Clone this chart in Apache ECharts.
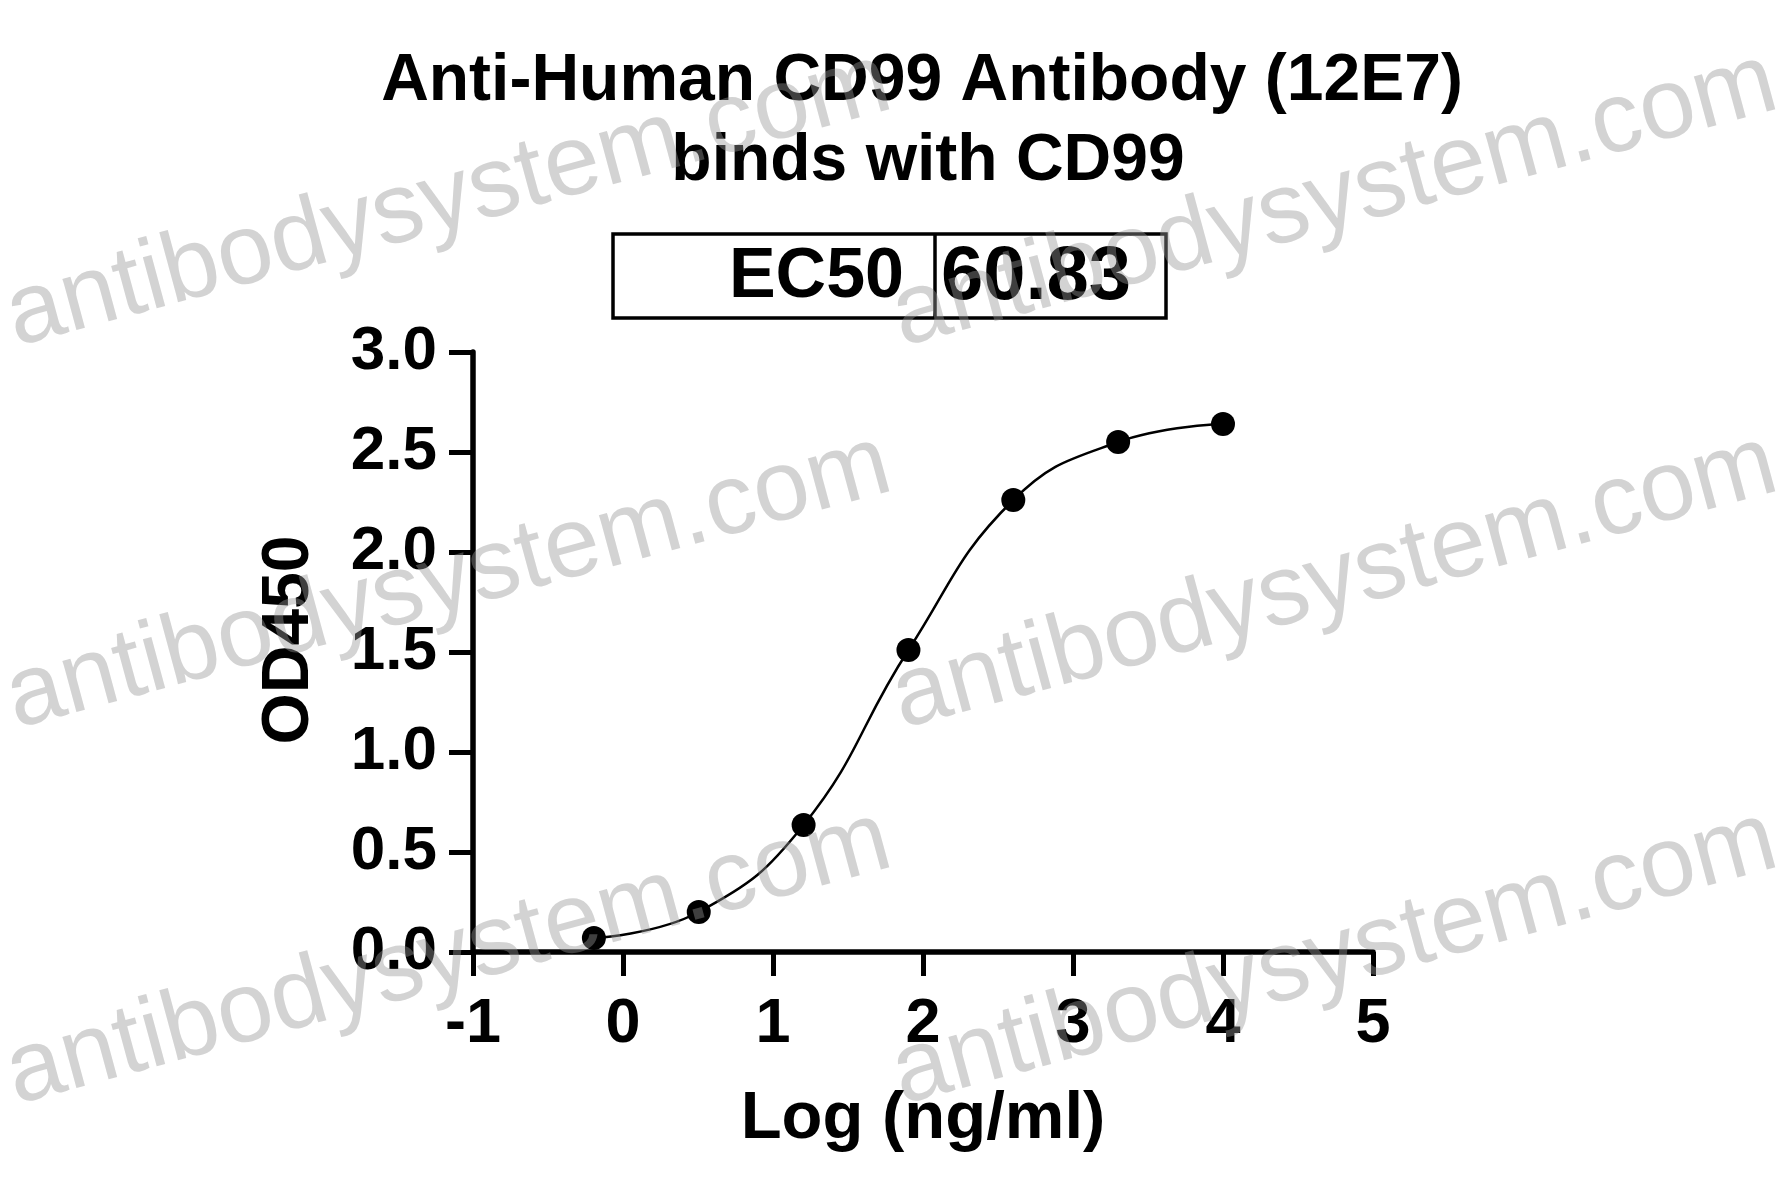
<!DOCTYPE html>
<html>
<head>
<meta charset="utf-8">
<script src="https://cdn.jsdelivr.net/npm/echarts@6/dist/echarts.min.js"></script>
<style>
html,body{margin:0;padding:0;background:#fff;}
#main{width:1781px;height:1197px;}
</style>
</head>
<body>
<div id="main"></div>
<script>
// ---- data ----
const logConc = [-0.194, 0.505, 1.204, 1.903, 2.602, 3.301, 4.0];
const od450 = [0.07, 0.20, 0.635, 1.51, 2.26, 2.55, 2.64];
const xTicks = [-1, 0, 1, 2, 3, 4, 5];
const yTicks = [0.0, 0.5, 1.0, 1.5, 2.0, 2.5, 3.0];
const titleLines = ['Anti-Human CD99 Antibody (12E7)', 'binds with CD99'];
const xAxisName = 'Log (ng/ml)';
const yAxisName = 'OD450';
const ec50Label = 'EC50';
const ec50Value = '60.83';
const watermarkText = 'antibodysystem.com';

const FONT = '"Liberation Sans", Arial, Helvetica, sans-serif';
const points = logConc.map((x, i) => [x, od450[i]]);

const chart = echarts.init(document.getElementById('main'), null, {renderer: 'canvas'});

const wmAngle = 15.2 * Math.PI / 180;
const wmPositions = [[22, 368], [908, 368], [22, 750], [908, 750], [22, 1126], [908, 1126]];
const watermarks = wmPositions.map(p => ({
  type: 'text', x: p[0], y: p[1], rotation: wmAngle, z: 100, silent: true,
  style: {
    text: watermarkText, fill: 'rgba(150,150,150,0.42)',
    font: '100px ' + FONT, align: 'left', verticalAlign: 'bottom'
  }
}));

const option = {
  backgroundColor: '#ffffff',
  animation: false,
  grid: {left: 473, right: 408, top: 352, bottom: 245, containLabel: false},
  xAxis: {
    type: 'value', min: xTicks[0], max: xTicks[xTicks.length - 1], interval: 1,
    name: xAxisName, nameLocation: 'middle', nameGap: 134,
    nameTextStyle: {fontFamily: FONT, fontWeight: 'bold', fontSize: 67, color: '#000'},
    axisLine: {onZero: false, lineStyle: {color: '#000', width: 5.5}},
    axisTick: {show: true, length: 24, lineStyle: {color: '#000', width: 5}},
    axisLabel: {margin: 41, fontFamily: FONT, fontWeight: 'bold', fontSize: 63, color: '#000'},
    splitLine: {show: false}
  },
  yAxis: {
    type: 'value', min: yTicks[0], max: yTicks[yTicks.length - 1], interval: 0.5,
    axisLine: {onZero: false, lineStyle: {color: '#000', width: 5.5}},
    axisTick: {show: true, length: 24, lineStyle: {color: '#000', width: 5}},
    axisLabel: {margin: 36, fontFamily: FONT, fontWeight: 'bold', fontSize: 62, color: '#000',
      formatter: v => v.toFixed(1)},
    splitLine: {show: false}
  },
  series: [{
    type: 'line',
    data: points,
    smooth: 0.45,
    symbol: 'circle',
    symbolSize: 24,
    showSymbol: true,
    lineStyle: {color: '#000', width: 2.5},
    itemStyle: {color: '#000'},
    z: 5
  }],
  graphic: [
    {type: 'text', x: 922, y: 82, z: 10,
      style: {text: titleLines[0], font: 'bold 66px ' + FONT, fill: '#000', align: 'center', verticalAlign: 'middle'}},
    {type: 'text', x: 928, y: 162, z: 10,
      style: {text: titleLines[1], font: 'bold 66px ' + FONT, fill: '#000', align: 'center', verticalAlign: 'middle'}},
    {type: 'text', x: 290, y: 640, rotation: Math.PI / 2, z: 10,
      style: {text: yAxisName, font: 'bold 66px ' + FONT, fill: '#000', align: 'center', verticalAlign: 'middle'}},
    {type: 'rect', shape: {x: 613, y: 234, width: 553, height: 84},
      style: {fill: 'none', stroke: '#000', lineWidth: 3.5}, z: 10},
    {type: 'line', shape: {x1: 935, y1: 234, x2: 935, y2: 318},
      style: {stroke: '#000', lineWidth: 3.5}, z: 10},
    {type: 'text', x: 904, y: 278, z: 10,
      style: {text: ec50Label, font: 'bold 70px ' + FONT, fill: '#000', align: 'right', verticalAlign: 'middle'}},
    {type: 'text', x: 1036, y: 278, z: 10,
      style: {text: ec50Value, font: 'bold 76px ' + FONT, fill: '#000', align: 'center', verticalAlign: 'middle'}}
  ].concat(watermarks)
};
chart.setOption(option);
</script>
</body>
</html>
